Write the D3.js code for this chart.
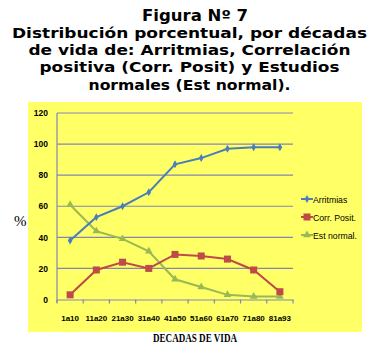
<!DOCTYPE html>
<html lang="es">
<head>
<meta charset="utf-8">
<script src="https://d3js.org/d3.v7.min.js"></script>
<style>
  body { margin: 0; background: #fff; }
  svg { display: block; }
</style>
</head>
<body>
<script>
  var width = 380, height = 354;

  // data
  var decadas = ["1a10", "11a20", "21a30", "31a40", "41a50", "51a60", "61a70", "71a80", "81a93"];
  var arritmias = [38, 53, 60, 69, 87, 91, 97, 98, 98];
  var corrPosit = [3, 19, 24, 20, 29, 28, 26, 19, 5];
  var estNormal = [61, 44, 39, 31, 13, 8, 3, 2, 2];
  var yTicks = [0, 20, 40, 60, 80, 100, 120];
  var titleLines = [
    "Figura Nº 7",
    "Distribución porcentual, por décadas",
    "de vida de: Arritmias, Correlación",
    "positiva (Corr. Posit) y Estudios",
    "normales (Est normal)."
  ];
  // widths of the title lines in the figure
  var titleWidths = [106, 355, 322, 300, 202];

  var series = [
    { name: "Arritmias", values: arritmias, color: "#4a7ebb", marker: "diamond" },
    { name: "Corr. Posit.", values: corrPosit, color: "#be4b48", marker: "square" },
    { name: "Est normal.", values: estNormal, color: "#98b954", marker: "triangle" }
  ];

  var svg = d3.select("body").append("svg")
      .attr("width", width).attr("height", height);

  // title
  svg.append("g").selectAll("text")
      .data(titleLines)
      .join("text")
      .attr("x", function(d, i) { return i == 0 ? 195 : 189.5; })
      .attr("y", function(d, i) { return 20.5 + i * 17.3; })
      .attr("text-anchor", "middle")
      .attr("textLength", function(d, i) { return titleWidths[i]; })
      .attr("lengthAdjust", "spacingAndGlyphs")
      .style("font-family", "'DejaVu Sans', sans-serif")
      .style("font-weight", "bold")
      .style("font-size", function(d, i) { return i == 0 ? "15.5px" : "14.5px"; })
      .text(function(d) { return d; });

  // yellow chart area
  svg.append("rect")
      .attr("x", 28).attr("y", 102)
      .attr("width", 334).attr("height", 230)
      .attr("fill", "#ffff66");

  var x = d3.scaleBand().domain(decadas).range([57, 293]);
  var y = d3.scaleLinear().domain([0, 120]).range([299.5, 113]);
  var gridColor = "#8585b5";

  // gridlines
  svg.append("g").selectAll("line")
      .data(yTicks.slice(1))
      .join("line")
      .attr("x1", 57).attr("x2", 293)
      .attr("y1", function(d) { return y(d); })
      .attr("y2", function(d) { return y(d); })
      .attr("stroke", gridColor).attr("stroke-width", 1.2);

  // y axis
  var yAxis = svg.append("g")
      .attr("transform", "translate(57,0)")
      .call(d3.axisLeft(y).tickValues(yTicks).tickSize(0).tickPadding(9));
  yAxis.select(".domain").attr("stroke", gridColor).attr("stroke-width", 1.2)
      .attr("d", "M0," + y(120) + "V" + (y(0) + 3));
  yAxis.selectAll("text")
      .style("font-family", "'Liberation Sans', sans-serif")
      .style("font-weight", "bold")
      .style("font-size", "8.5px")
      .attr("fill", "#000");

  // x axis
  var xAxis = svg.append("g")
      .attr("transform", "translate(0," + y(0) + ")")
      .call(d3.axisBottom(x).tickSize(0).tickPadding(15.5));
  xAxis.select(".domain").attr("stroke", gridColor).attr("stroke-width", 1.2);
  xAxis.selectAll("text")
      .style("font-family", "'Liberation Sans', sans-serif")
      .style("font-weight", "bold")
      .style("font-size", "8px")
      .attr("fill", "#000");
  // category boundary ticks
  xAxis.append("g").selectAll("line")
      .data(decadas.concat(["end"]))
      .join("line")
      .attr("x1", function(d, i) { return x.range()[0] + i * x.step(); })
      .attr("x2", function(d, i) { return x.range()[0] + i * x.step(); })
      .attr("y1", 0).attr("y2", 4)
      .attr("stroke", gridColor).attr("stroke-width", 1.2);

  var cx = function(i) { return x(decadas[i]) + x.bandwidth() / 2; };

  var line = d3.line()
      .x(function(d, i) { return cx(i); })
      .y(function(d) { return y(d); });

  function marker(sel, type, color) {
    if (type == "diamond") {
      sel.append("path").attr("d", d3.symbol(d3.symbolDiamond, 18)()).attr("fill", color);
    } else if (type == "square") {
      sel.append("rect").attr("x", -3.5).attr("y", -3.5).attr("width", 7).attr("height", 7).attr("fill", color);
    } else {
      sel.append("path").attr("d", d3.symbol(d3.symbolTriangle, 26)()).attr("fill", color);
    }
  }

  // lines + markers (green first so blue/red sit above)
  var order = [2, 1, 0];
  order.forEach(function(k) {
    var s = series[k];
    svg.append("path")
        .datum(s.values)
        .attr("d", line)
        .attr("fill", "none")
        .attr("stroke", s.color)
        .attr("stroke-width", 2);
    svg.append("g").selectAll("g")
        .data(s.values)
        .join("g")
        .attr("transform", function(d, i) { return "translate(" + cx(i) + "," + y(d) + ")"; })
        .each(function() { marker(d3.select(this), s.marker, s.color); });
  });

  // legend
  var legend = svg.append("g").selectAll("g")
      .data(series)
      .join("g")
      .attr("transform", function(d, i) { return "translate(301," + (199 + i * 18) + ")"; });
  legend.append("line")
      .attr("x1", 0).attr("x2", 12).attr("y1", 0).attr("y2", 0)
      .attr("stroke", function(d) { return d.color; }).attr("stroke-width", 2);
  legend.each(function(d) {
    var g = d3.select(this).append("g").attr("transform", "translate(6,0)");
    marker(g, d.marker, d.color);
  });
  legend.append("text")
      .attr("x", 12).attr("y", 3.5)
      .style("font-family", "'Liberation Sans', sans-serif")
      .style("font-size", "8.7px")
      .text(function(d) { return d.name; });

  // axis titles
  svg.append("text")
      .attr("x", 14).attr("y", 226)
      .style("font-family", "'Liberation Serif', serif")
      .style("font-size", "15px")
      .text("%");

  svg.append("text")
      .attr("x", 195).attr("y", 341.5)
      .attr("text-anchor", "middle")
      .attr("textLength", 84)
      .attr("lengthAdjust", "spacingAndGlyphs")
      .style("font-family", "'Liberation Serif', serif")
      .style("font-weight", "bold")
      .style("font-size", "12px")
      .text("DECADAS DE VIDA");
</script>
</body>
</html>
